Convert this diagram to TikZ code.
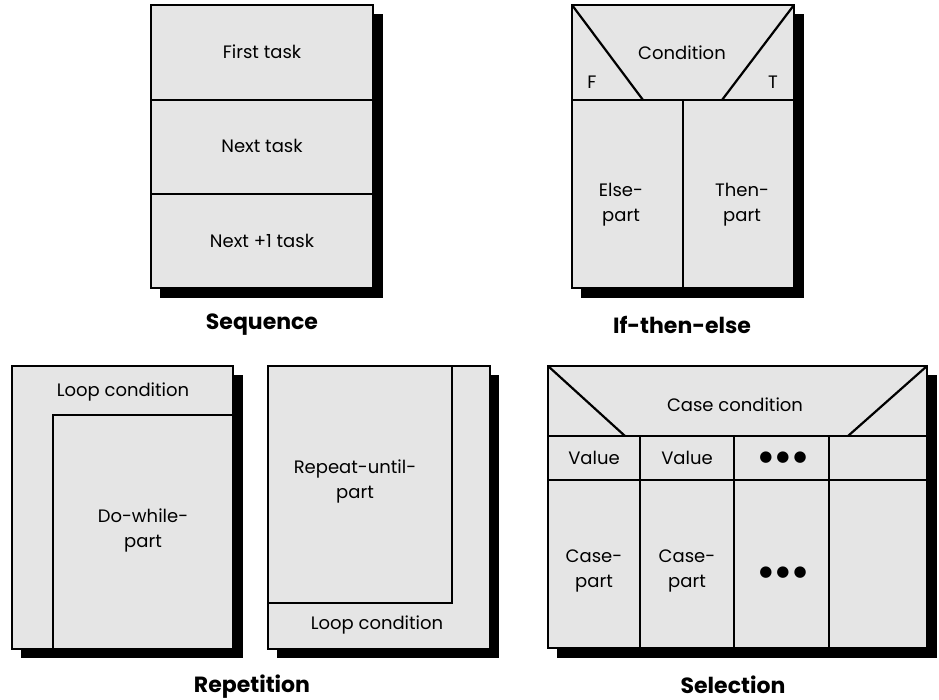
\documentclass[tikz,border=0pt]{standalone}
\usepackage{fontspec}
\setmainfont{Poppins}
\newfontfamily\dotfont{DejaVu Sans}
\begin{document}
\begin{tikzpicture}[x=1pt,y=-1pt,
  boxline/.style={line width=2.2pt, line join=miter},
  panel/.style={boxline, fill=black!10},
  shadowbox/.style={fill=black},
  lbl/.style={font=\fontsize{18}{25}\selectfont, align=center, inner sep=0pt},
  title/.style={font=\fontsize{22}{26}\selectfont\bfseries, inner sep=0pt},
  dots/.style={font=\fontsize{15}{18}\selectfont\dotfont, inner sep=0pt}]
\newcommand{\threedots}{●\kern4pt●\kern4pt●}
\useasboundingbox (0,0) rectangle (939,700);
\fill[white] (0,0) rectangle (939,700);

% ---------- Sequence ----------
\fill[shadowbox] (160,14) rectangle (383,298);
\draw[panel] (151,5) rectangle (373,288);
\draw[boxline] (151,100) -- (373,100);
\draw[boxline] (151,194) -- (373,194);
\node[lbl] (first) at (262,52) {First task};
\node[lbl] (next) at (262,146) {Next task};
\node[lbl] (next1) at (262,241) {Next +1 task};
\node[title] (seq) at (262,325) {Sequence};

% ---------- If-then-else ----------
\fill[shadowbox] (581,14) rectangle (804,298);
\draw[panel] (572,5) rectangle (794,288);
\draw[boxline] (572,100) -- (794,100);
\draw[boxline] (683,100) -- (683,288);
\draw[boxline] (572,5) -- (643,100);
\draw[boxline] (794,5) -- (722,100);
\node[lbl] (cond) at (682,53) {Condition};
\node[lbl] (F) at (592,82) {F};
\node[lbl] (T) at (773,82) {T};
\node[lbl] (else) at (621,205) {Else-\\part};
\node[lbl] (then) at (742,205) {Then-\\part};
\node[title] (ite) at (682,325) {If-then-else};

% ---------- Repetition: do-while ----------
\fill[shadowbox] (21,375) rectangle (243,658);
\draw[panel] (12,366) rectangle (233,649);
\draw[boxline] (53,649) -- (53,415) -- (233,415);
\node[lbl] (lc1) at (123,392) {Loop condition};
\node[lbl] (dw) at (143,530) {Do-while-\\part};

% ---------- Repetition: repeat-until ----------
\fill[shadowbox] (277,375) rectangle (499,658);
\draw[panel] (268,366) rectangle (490,649);
\draw[boxline] (268,603) -- (452,603) -- (452,366);
\node[lbl] (ru) at (355,481) {Repeat-until-\\part};
\node[lbl] (lc2) at (377,625) {Loop condition};
\node[title] (rep) at (252,687) {Repetition};

% ---------- Selection ----------
\fill[shadowbox] (557,375) rectangle (937,658);
\draw[panel] (548,366) rectangle (927,648);
\draw[boxline] (548,436) -- (927,436);
\draw[boxline] (548,480) -- (927,480);
\draw[boxline] (640,436) -- (640,648);
\draw[boxline] (734,436) -- (734,648);
\draw[boxline] (829,436) -- (829,648);
\draw[boxline] (548,366) -- (625,436);
\draw[boxline] (927,366) -- (848,436);
\node[lbl] (cc) at (735,405) {Case condition};
\node[lbl] (v1) at (594,458) {Value};
\node[lbl] (v2) at (687,458) {Value};
\node[dots] (d1) at (783,458) {\threedots};
\node[lbl] (cp1) at (594,571) {Case-\\part};
\node[lbl] (cp2) at (687,571) {Case-\\part};
\node[dots] (d2) at (783,573) {\threedots};
\node[title] (sel) at (733,685) {Selection};
\end{tikzpicture}
\end{document}
